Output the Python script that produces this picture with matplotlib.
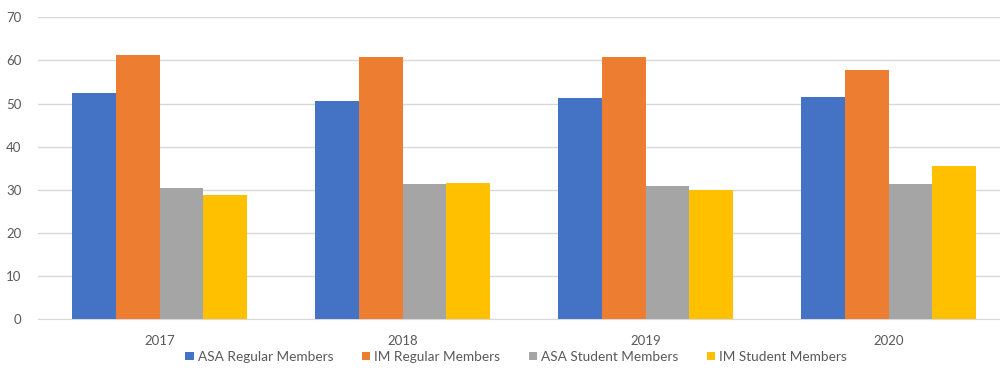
import matplotlib
matplotlib.use("Agg")
import matplotlib.pyplot as plt
import numpy as np

years = ["2017", "2018", "2019", "2020"]
series_names = ["ASA Regular Members", "IM Regular Members", "ASA Student Members", "IM Student Members"]
asa_regular = [52.4, 50.6, 51.4, 51.5]
im_regular = [61.3, 60.7, 60.7, 57.7]
asa_student = [30.4, 31.4, 30.8, 31.4]
im_student = [28.9, 31.5, 29.9, 35.5]
colors = ["#4472C4", "#ED7D31", "#A5A5A5", "#FFC000"]

plt.rcParams['font.family'] = ['Lato', 'DejaVu Sans']

fig = plt.figure(figsize=(10, 3.73), dpi=100)
ax = fig.add_axes([0.038, 0.144, 0.972, 0.8096])

x = np.arange(len(years))
bw = 0.181
all_series = [asa_regular, im_regular, asa_student, im_student]
for i, (vals, name, c) in enumerate(zip(all_series, series_names, colors)):
    ax.bar(x + (i - 1.5) * bw, vals, bw, color=c, label=name, zorder=3)

ax.set_xlim(-0.5, 3.5)
ax.set_ylim(0, 70)
ax.set_yticks(range(0, 71, 10))
ax.set_xticks(x)
ax.set_xticklabels(years)
ax.yaxis.grid(True, color="#D9D9D9", linewidth=1, zorder=0)
for s in ["top", "right", "left"]:
    ax.spines[s].set_visible(False)
ax.spines["bottom"].set_color("#D9D9D9")
ax.tick_params(axis="both", length=0, labelsize=9.5, colors="#595959")
ax.tick_params(axis="x", pad=11)
ax.tick_params(axis="y", pad=12)

leg = fig.legend(loc="center", bbox_to_anchor=(0.516, 0.043), ncol=4, frameon=False,
                 fontsize=9.8, handlelength=0.6, handleheight=0.6, handletextpad=0.3,
                 columnspacing=2.1)
for t in leg.get_texts():
    t.set_color("#595959")

fig.savefig("out.png", dpi=100)
